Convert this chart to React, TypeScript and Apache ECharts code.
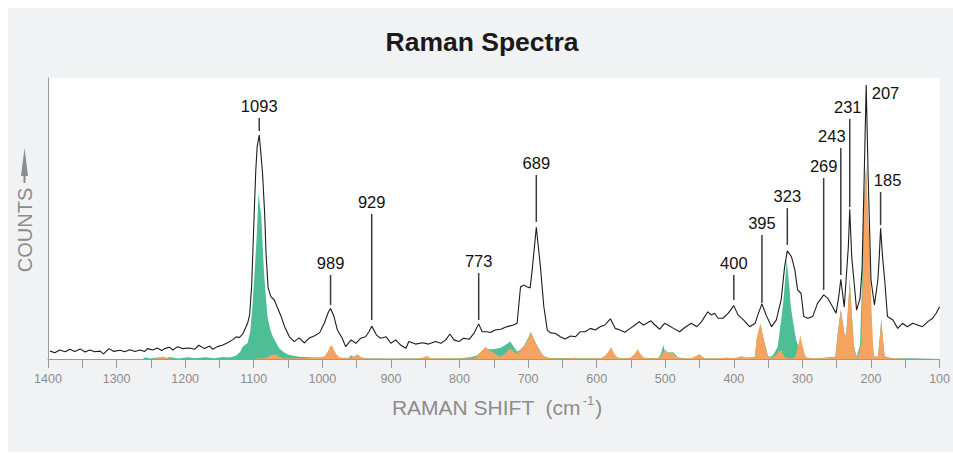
import React, { useEffect, useRef } from 'react';
import * as echarts from 'echarts';

const FONT = '"Liberation Sans", Arial, Helvetica, sans-serif';

// Raman shift (cm-1), relative counts of the measured spectrum
const totalSpectrum: [number, number][] = [
  [1397, 2.8], [1390, 2.2], [1383, 3.2], [1375, 2.6], [1368, 3.5], [1361, 2.7], [1353, 3.6], [1346, 2.5],
  [1339, 3.2], [1332, 2.6], [1324, 2.8], [1319, 1.8], [1311, 3.7], [1304, 2.7], [1295, 3.1], [1288, 2.6],
  [1281, 3.3], [1273, 2.7], [1266, 3.2], [1259, 2.7], [1255, 3.7], [1247, 3.2], [1241, 3.9], [1234, 3.0],
  [1230, 3.7], [1223, 4.2], [1218, 3.2], [1211, 4.4], [1204, 3.7], [1194, 3.9], [1186, 3.5], [1180, 4.9],
  [1172, 3.7], [1164, 4.6], [1160, 3.5], [1153, 4.4], [1146, 4.9], [1138, 5.8], [1131, 6.8], [1125, 7.9],
  [1121, 7.6], [1116, 8.9], [1109, 12.7], [1106, 15.7], [1103, 26.3], [1099, 54.2], [1097, 67.3], [1095, 75.6],
  [1092, 79.7], [1090, 74.4], [1087, 65.5], [1084, 51.2], [1082, 37.0], [1079, 25.3], [1075, 22.2], [1070, 21.0],
  [1066, 18.6], [1060, 15.1], [1055, 11.5], [1048, 7.9], [1041, 6.2], [1034, 7.5], [1026, 5.7], [1019, 7.5],
  [1012, 8.2], [1004, 9.3], [997, 12.8], [991, 16.8], [988, 18.0], [983, 15.1], [978, 10.3], [971, 7.4],
  [966, 4.4], [958, 6.8], [951, 5.6], [944, 7.4], [937, 7.9], [932, 9.7], [928, 11.7], [921, 8.5],
  [915, 7.4], [907, 7.9], [900, 5.6], [893, 6.8], [886, 5.0], [878, 3.8], [874, 6.2], [864, 5.3],
  [854, 5.8], [845, 5.3], [835, 6.2], [827, 5.6], [820, 6.8], [814, 8.9], [808, 6.8], [801, 6.2],
  [794, 7.4], [786, 7.0], [779, 9.1], [772, 12.5], [767, 9.7], [760, 9.7], [755, 9.4], [748, 10.3],
  [740, 10.6], [733, 11.3], [728, 11.7], [721, 12.1], [716, 12.7], [711, 25.7], [706, 26.3], [702, 25.7],
  [697, 25.3], [694, 31.7], [688, 46.9], [682, 32.8], [677, 18.6], [672, 10.3], [668, 9.4], [660, 9.1],
  [653, 7.9], [646, 7.1], [638, 8.2], [631, 7.9], [624, 9.7], [617, 9.7], [609, 10.9], [602, 10.3],
  [595, 11.5], [588, 12.1], [580, 14.3], [573, 10.9], [566, 10.3], [559, 9.5], [551, 10.9], [544, 12.1],
  [538, 13.3], [532, 12.1], [527, 12.7], [521, 13.6], [515, 12.1], [508, 10.6], [501, 12.7], [496, 12.1],
  [488, 10.9], [479, 9.7], [471, 11.3], [462, 12.7], [454, 11.5], [447, 13.3], [438, 16.8], [433, 15.7],
  [428, 16.3], [423, 14.5], [416, 14.5], [408, 16.3], [400, 19.0], [394, 15.7], [386, 13.9], [377, 11.5],
  [369, 12.7], [365, 15.7], [359, 19.6], [353, 15.7], [345, 11.5], [338, 13.9], [331, 21.0], [326, 32.8],
  [322, 38.5], [316, 36.4], [311, 31.7], [307, 24.6], [302, 23.4], [298, 15.1], [292, 14.5], [285, 15.1],
  [278, 19.8], [269, 22.8], [263, 21.6], [256, 18.6], [251, 16.3], [247, 22.2], [244, 28.4], [239, 18.5],
  [233, 40.0], [231, 53.3], [228, 36.0], [224, 25.7], [221, 17.4], [216, 21.6], [213, 32.0], [210, 63.7],
  [207, 97.5], [204, 63.7], [200, 28.1], [195, 19.2], [190, 28.1], [188, 36.0], [186, 46.5], [183, 36.0],
  [180, 28.1], [176, 15.1], [168, 13.9], [161, 10.9], [154, 12.7], [147, 11.5], [139, 12.7], [132, 12.1],
  [125, 11.5], [117, 13.3], [110, 14.5], [105, 16.3], [100, 18.6],
];

// green reference component
const greenComponent: [number, number][] = [
  [1400, 0], [1262, 0], [1258, 0.6], [1252, 0.2], [1240, 0.5], [1232, 0.2], [1222, 0.7], [1210, 0.2],
  [1196, 0.6], [1186, 0.3], [1170, 0.6], [1158, 0.3], [1145, 0.7], [1135, 0.5], [1126, 1.2], [1120, 2.5],
  [1116, 4.4], [1109, 5.7], [1105, 10.0], [1102, 18.6], [1099, 30.0], [1096, 42.3], [1093, 59.0], [1089, 50.6],
  [1085, 30.6], [1082, 21.0], [1080, 15.1], [1076, 10.5], [1072, 7.9], [1063, 3.8], [1055, 2.2], [1048, 1.4],
  [1034, 0.8], [1010, 0.5], [995, 0.6], [988, 1.5], [982, 0.5], [962, 0.4], [958, 1.3], [952, 0.4],
  [940, 0.3], [900, 0.2], [850, 0.3], [800, 0.3], [785, 0.6], [775, 1.2], [768, 2.8], [762, 3.8],
  [755, 3.4], [748, 3.6], [740, 4.0], [733, 5.0], [726, 6.2], [720, 4.0], [716, 2.7], [712, 3.2],
  [706, 4.6], [700, 7.5], [696, 9.6], [690, 6.3], [685, 4.0], [678, 1.2], [670, 0.4], [600, 0.3],
  [510, 0.4], [506, 2.0], [503, 5.0], [500, 2.5], [494, 2.3], [488, 2.4], [482, 0.6], [470, 0.2],
  [400, 0.3], [372, 0.6], [369, 1.0], [367, 6.8], [361, 12.6], [358, 8.6], [355, 5.7], [350, 1.0],
  [345, 0.8], [340, 2.5], [336, 4.4], [331, 13.9], [328, 20.0], [326, 25.7], [323, 35.2], [319, 25.7],
  [317, 19.0], [314, 13.9], [311, 9.5], [309, 6.8], [302, 2.0], [295, 0.4], [280, 0.2], [252, 0.8],
  [249, 8.2], [244, 17.6], [240, 11.2], [238, 8.1], [236, 9.2], [233, 20.2], [231, 28.3], [228, 16.4],
  [225, 4.8], [221, 0.9], [216, 4.9], [213, 28.4], [210, 57.2], [207, 69.0], [204, 41.0], [201, 16.8],
  [197, 1.0], [190, 0.8], [187, 8.2], [185, 14.1], [183, 8.2], [180, 1.0], [170, 0.3], [140, 0.3], [100, 0],
];

// orange reference component
const orangeComponent: [number, number][] = [
  [1400, 0], [1245, 0], [1240, 0.5], [1232, 0.9], [1226, 0.3], [1215, 0], [1100, 0], [1085, 0.3],
  [1078, 0.9], [1074, 1.4], [1068, 1.6], [1062, 0.6], [1055, 0.2], [1004, 0.4], [996, 1.2], [992, 2.8],
  [989, 4.2], [986, 5.0], [983, 3.2], [979, 1.5], [974, 0.4], [960, 0.3], [953, 1.0], [949, 1.7],
  [944, 0.8], [938, 0.2], [900, 0.1], [856, 0.2], [850, 0.9], [847, 1.1], [842, 0.3], [800, 0.2],
  [777, 0.3], [770, 2.2], [765, 3.6], [762, 4.4], [757, 3.0], [752, 2.6], [746, 1.5], [740, 0.8],
  [734, 1.8], [729, 3.0], [726, 3.8], [721, 2.6], [716, 2.0], [711, 3.2], [706, 4.4], [701, 6.5],
  [696, 9.4], [692, 7.2], [688, 5.2], [685, 3.8], [680, 1.8], [675, 0.8], [668, 0.3], [640, 0.2],
  [632, 0.5], [626, 0.2], [594, 0.3], [588, 1.2], [583, 2.6], [579, 4.2], [575, 2.2], [571, 0.8],
  [565, 0.2], [552, 0.4], [546, 1.4], [540, 3.5], [536, 1.8], [532, 0.6], [520, 0.2], [508, 0.5],
  [504, 1.8], [500, 3.2], [496, 2.4], [493, 2.0], [489, 2.2], [485, 1.0], [480, 0.3], [462, 0.3],
  [456, 1.0], [450, 1.8], [446, 0.8], [440, 0.2], [420, 0.3], [410, 0.5], [400, 0.3], [393, 0.7],
  [389, 1.1], [384, 0.5], [375, 0.3], [372, 0.5], [369, 1.0], [367, 6.8], [364, 10.0], [361, 12.5],
  [358, 8.5], [355, 5.6], [352, 2.5], [350, 0.8], [345, 0.4], [338, 1.5], [334, 2.8], [331, 3.2],
  [328, 1.5], [324, 0.3], [312, 0.3], [309, 1.5], [306, 5.0], [303, 8.5], [301, 6.0], [299, 4.0],
  [296, 1.2], [294, 0.6], [285, 0.2], [270, 0.3], [260, 0.4], [252, 0.8], [249, 8.0], [246, 14.0],
  [244, 17.4], [242, 14.0], [240, 11.0], [238, 7.9], [236, 9.0], [233, 20.0], [231, 28.1], [228, 16.2],
  [225, 4.6], [222, 1.2], [220, 0.6], [217, 2.5], [214, 5.6], [212, 28.1], [210, 56.6], [207, 68.7],
  [205, 55.0], [202, 40.0], [199, 16.3], [197, 5.0], [195, 0.6], [190, 0.8], [187, 8.0], [185, 13.9],
  [183, 8.0], [180, 0.8], [170, 0.2], [160, 0.3], [150, 0.1], [100, 0],
];

// peak annotations
const peakLabels = ['1093', '989', '929', '773', '689', '400', '395', '323', '269', '243', '231', '207', '185'];
const peakShifts = [1092, 988, 928, 772, 688, 400, 359, 322, 269, 244, 231, 208, 186];
const peakLineTop = [85.8, 29.9, 51.6, 30.6, 65.5, 29.9, 44.1, 53.7, 64.4, 75.1, 85.4, 90.4, 59.4];
const peakLineBottom = [81.1, 19.2, 13.9, 13.9, 48.8, 21.0, 19.9, 40.6, 24.6, 29.9, 54.1, 90.4, 47.7];

const xTickLabels = ['1400', '1300', '1200', '1100', '1000', '900', '800', '700', '600', '500', '400', '300', '200', '100'];

const labelDx: Record<string, number> = { '243': -9, '231': -2, '207': 20, '185': 7 };

export default function App() {
  const ref = useRef<HTMLDivElement>(null);
  useEffect(() => {
    const chart = echarts.init(ref.current as HTMLDivElement, null, { renderer: 'svg' });
    const gray = '#8c8c8c';
    chart.setOption({
      animation: false,
      backgroundColor: '#ffffff',
      graphic: [
        { type: 'rect', z: -10, silent: true, shape: { x: 8, y: 8, width: 945, height: 444 }, style: { fill: '#f1f2f4' } },
        {
          type: 'text', z: 5, silent: true,
          style: { text: 'Raman Spectra', x: 482, y: 42, align: 'center', verticalAlign: 'middle', textAlign: 'center', textVerticalAlign: 'middle', fontSize: 26.5, fontWeight: 'bold', fontFamily: FONT, fill: '#1a1a1a' },
        },
        {
          type: 'text', z: 5, silent: true, x: 25, y: 230, rotation: Math.PI / 2,
          style: { text: 'COUNTS', x: 0, y: 0, align: 'center', verticalAlign: 'middle', textAlign: 'center', textVerticalAlign: 'middle', fontSize: 20, fontFamily: FONT, fill: gray },
        },
        { type: 'polygon', z: 5, silent: true, shape: { points: [[24.5, 148], [21, 176], [28, 176]] }, style: { fill: gray } },
        { type: 'line', z: 5, silent: true, shape: { x1: 24.5, y1: 175, x2: 24.5, y2: 183 }, style: { stroke: gray, lineWidth: 2 } },
        {
          type: 'text', z: 5, silent: true,
          style: {
            text: '{a|RAMAN SHIFT  (cm}{s|-1}{a|)}', x: 497, y: 407, align: 'center', verticalAlign: 'middle', textAlign: 'center', textVerticalAlign: 'middle',
            rich: {
              a: { fontSize: 21, fontFamily: FONT, fill: gray, color: gray, lineHeight: 26 },
              s: { fontSize: 13, fontFamily: FONT, fill: gray, color: gray, lineHeight: 26, verticalAlign: 'top', padding: [0, 1, 0, 2] },
            },
          },
        },
      ],
      grid: { left: 48, right: 11, top: 78, bottom: 95, show: true, backgroundColor: '#ffffff', borderWidth: 0 },
      xAxis: {
        type: 'value', inverse: true, min: 100, max: 1400, interval: 50,
        axisLine: { show: true, lineStyle: { color: '#9a9a9a', width: 1 } },
        axisTick: { show: true, length: 9, lineStyle: { color: '#9a9a9a', width: 1 } },
        axisLabel: {
          color: gray, fontSize: 12.5, fontFamily: FONT, margin: 13,
          formatter: (v: number) => (xTickLabels.includes(String(v)) ? String(v) : ''),
        },
        splitLine: { show: false },
      },
      yAxis: {
        type: 'value', min: 0, max: 100,
        axisLine: { show: true, lineStyle: { color: '#9a9a9a', width: 1 } },
        axisTick: { show: false }, axisLabel: { show: false }, splitLine: { show: false },
      },
      series: [
        {
          type: 'line', name: 'green', data: greenComponent, symbol: 'none', silent: true, z: 1,
          lineStyle: { width: 0, color: '#4ebe96' }, areaStyle: { color: '#4ebe96', opacity: 1 },
        },
        {
          type: 'line', name: 'orange', data: orangeComponent, symbol: 'none', silent: true, z: 2,
          lineStyle: { width: 0, color: '#f5a35f' }, areaStyle: { color: '#f5a35f', opacity: 1 },
        },
        {
          type: 'line', name: 'spectrum', data: totalSpectrum, symbol: 'none', silent: true, z: 3,
          lineStyle: { width: 1.1, color: '#1c1c1c' },
        },
        {
          type: 'custom', name: 'peaks', silent: true, z: 4, clip: false,
          data: peakShifts.map((s, i) => [s, peakLineTop[i], peakLineBottom[i]]),
          renderItem: (params: any, api: any) => {
            const i = params.dataIndex;
            const top = api.coord([api.value(0), api.value(1)]);
            const bot = api.coord([api.value(0), api.value(2)]);
            const dx = labelDx[peakLabels[i]] || 0;
            const children: any[] = [];
            if (bot[1] - top[1] > 1) {
              children.push({ type: 'line', shape: { x1: top[0], y1: top[1], x2: bot[0], y2: bot[1] }, style: { stroke: '#3a3a3a', lineWidth: 1.5 } });
            }
            children.push({
              type: 'text',
              style: { text: peakLabels[i], x: top[0] + dx, y: top[1] - 12, align: 'center', verticalAlign: 'middle', textAlign: 'center', textVerticalAlign: 'middle', fontSize: 16.5, fontFamily: FONT, fill: '#111111' },
            });
            return { type: 'group', children };
          },
        },
      ],
    });
    return () => chart.dispose();
  }, []);
  return <div ref={ref} style={{ position: 'fixed', left: 0, top: 0, width: 953, height: 454 }} />;
}
